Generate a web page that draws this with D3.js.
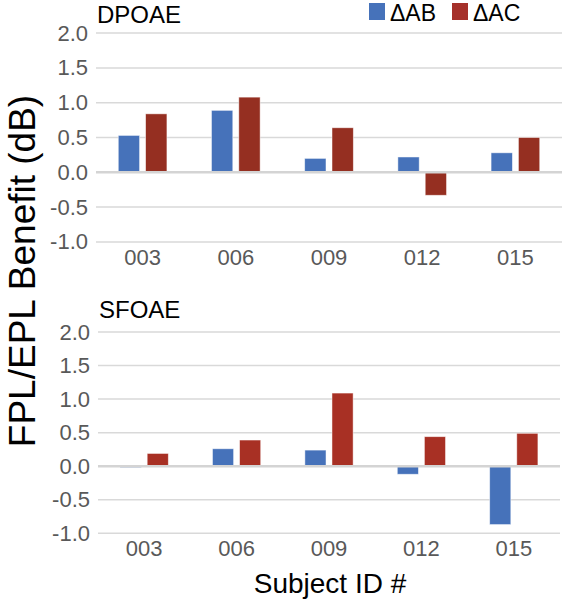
<!DOCTYPE html>
<html><head><meta charset="utf-8">
<script src="https://cdn.jsdelivr.net/npm/d3@7"></script>
<style>body{margin:0;background:#fff}svg{display:block}text{font-family:"Liberation Sans",Arial,sans-serif}</style>
</head><body><svg id="c" width="562" height="600"></svg>
<script>
const categories = ["003","006","009","012","015"];
const seriesNames = ["ΔAB","ΔAC"];
const dpoaeAB = [0.53, 0.89, 0.20, 0.22, 0.28];
const dpoaeAC = [0.84, 1.08, 0.64, -0.33, 0.50];
const sfoaeAB = [-0.02, 0.26, 0.24, -0.12, -0.87];
const sfoaeAC = [0.19, 0.39, 1.09, 0.44, 0.49];
const yTicks = [-1.0, -0.5, 0.0, 0.5, 1.0, 1.5, 2.0];

const svg = d3.select("#c");

function label(g, x, y, str, opts) {
  return g.append("text")
    .attr("x", x).attr("y", y)
    .attr("text-anchor", opts.anchor || "start")
    .attr("dominant-baseline", opts.baseline || "auto")
    .attr("font-size", opts.size)
    .attr("fill", opts.fill || "#000")
    .text(str);
}

function panel(cfg) {
  const g = svg.append("g");
  const y = d3.scaleLinear().domain([-1, 2]).range([cfg.yBottom, cfg.yTop]);
  const x0 = d3.scaleBand().domain(categories).range([cfg.xLeft, cfg.xRight])
    .paddingInner(0.478).paddingOuter(0.239);
  const x1 = d3.scaleBand().domain(seriesNames).range([0, x0.bandwidth()])
    .paddingInner(0.22).paddingOuter(0);

  g.append("g").selectAll("line").data(yTicks.filter(d => d !== 0)).join("line")
    .attr("x1", cfg.xLeft).attr("x2", cfg.xRight)
    .attr("y1", d => y(d)).attr("y2", d => y(d))
    .attr("stroke", "#d9d9d9").attr("stroke-width", 1.5);

  yTicks.forEach(v => {
    label(g, cfg.xLeft - 8, y(v), d3.format(".1f")(v).replace("−","-"),
      {anchor: "end", baseline: "central", size: 22, fill: "#595959"});
  });

  const rows = categories.map((c, i) => ({c, vals: [cfg.ab[i], cfg.ac[i]]}));
  const grp = g.append("g").selectAll("g").data(rows).join("g")
    .attr("transform", d => `translate(${x0(d.c)},0)`);
  grp.selectAll("rect").data(d => d.vals.map((v, k) => ({k, v}))).join("rect")
    .attr("x", d => x1(seriesNames[d.k]))
    .attr("width", x1.bandwidth())
    .attr("y", d => d.v >= 0 ? y(d.v) : y(0))
    .attr("height", d => Math.abs(y(d.v) - y(0)))
    .attr("fill", d => cfg.colors[d.k])
    .attr("stroke", "#ffffff").attr("stroke-opacity", 0.6).attr("stroke-width", 0.8);

  g.append("line").attr("x1", cfg.xLeft).attr("x2", cfg.xRight)
    .attr("y1", y(0)).attr("y2", y(0))
    .attr("stroke", "#d4d4d4").attr("stroke-width", 2.5);

  categories.forEach(c => {
    label(g, x0(c) + x0.bandwidth() / 2, cfg.catBaseline, c,
      {anchor: "middle", size: 22, fill: "#595959"});
  });

  label(g, cfg.xLeft + 1, cfg.titleBaseline, cfg.title, {size: 24, fill: "#000"});
}

panel({title: "DPOAE", ab: dpoaeAB, ac: dpoaeAC, xLeft: 96, xRight: 562,
  yTop: 33.1, yBottom: 241.9, catBaseline: 265, titleBaseline: 23,
  colors: ["#4672BA", "#952F21"]});
panel({title: "SFOAE", ab: sfoaeAB, ac: sfoaeAC, xLeft: 98, xRight: 560,
  yTop: 332, yBottom: 533.3, catBaseline: 556, titleBaseline: 318,
  colors: ["#4672BA", "#A83024"]});

const leg = svg.append("g");
const legX = [369, 452];
seriesNames.forEach((s, i) => {
  leg.append("rect").attr("x", legX[i]).attr("y", 3).attr("width", 16).attr("height", 17)
    .attr("fill", i === 0 ? "#4672BA" : "#A5302A");
  label(leg, legX[i] + 21, 21, s, {size: 23, fill: "#000"});
});

svg.append("text")
  .attr("transform", "translate(35,271) rotate(-90)")
  .attr("text-anchor", "middle").attr("font-size", 37).attr("fill", "#000")
  .text("FPL/EPL Benefit (dB)");
label(svg, 330, 593, "Subject ID #", {anchor: "middle", size: 28});
</script></body></html>
